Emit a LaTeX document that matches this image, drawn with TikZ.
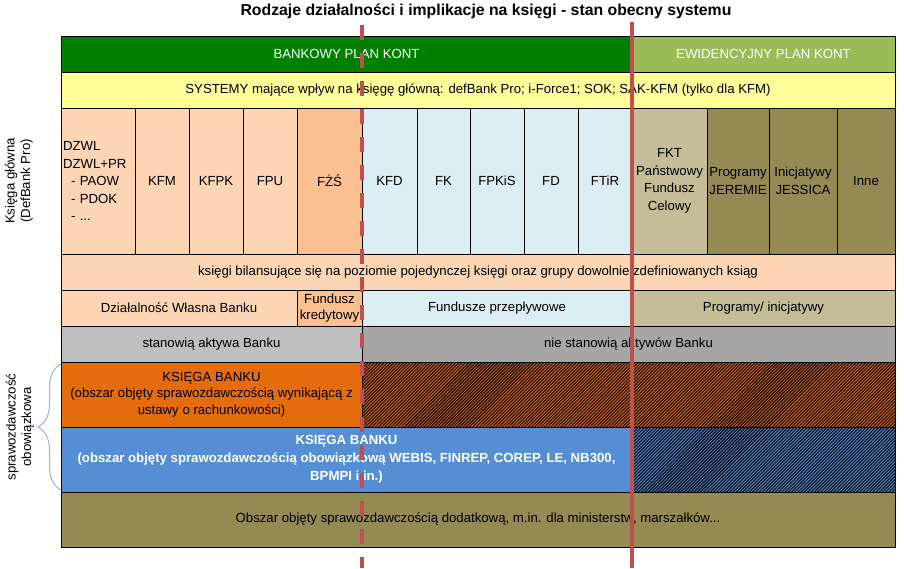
\documentclass[tikz,border=0pt]{standalone}
\usepackage{fontspec}
\setmainfont{Liberation Sans}
\usetikzlibrary{patterns.meta,decorations.pathreplacing}
\definecolor{dgreen}{HTML}{008000}
\definecolor{lgreen}{HTML}{9BBB59}
\definecolor{yel}{HTML}{FFFF99}
\definecolor{peach}{HTML}{FCD5B4}
\definecolor{peachd}{HTML}{FAC090}
\definecolor{lblue}{HTML}{DAEEF3}
\definecolor{tan}{HTML}{C4BD97}
\definecolor{olive}{HTML}{948A54}
\definecolor{grayA}{HTML}{BFBFBF}
\definecolor{grayB}{HTML}{A6A6A6}
\definecolor{obank}{HTML}{E46C0A}
\definecolor{bbank}{HTML}{558ED5}
\definecolor{redl}{HTML}{C0504D}
\definecolor{bracec}{HTML}{8DB4E2}
\newcommand{\fs}{\fontsize{13.2}{17.5}\selectfont}
\newcommand{\cellbox}[7]{\node[cell,#6,minimum width={(#4-#2)*1pt},minimum height={(#5-#3)*1pt}] (#1) at ({(#2+#4)/2},{(#3+#5)/2}) {#7};}
\tikzset{
  cell/.style={draw=black,line width=0.8pt,inner sep=1pt,outer sep=0pt,font=\fs,align=center,text=black},
  hatch/.style={postaction={pattern={Lines[angle=45,distance=2.3pt,line width=1.1pt]},pattern color=black}},
  redline/.style={draw=redl,line width=3.5pt},
  sidelabel/.style={rotate=90,align=center,font=\fontsize{13.2}{15.5}\selectfont}
}
\begin{document}
\begin{tikzpicture}[x=1pt,y=-1pt]
\useasboundingbox (0,0) rectangle (904,568);
\node[font=\fontsize{15.8}{18}\selectfont\bfseries] (title) at (486,11) {Rodzaje działalności i implikacje na księgi - stan obecny systemu};
% header
\cellbox{hbank}{61}{36}{632}{72}{fill=dgreen,text=white}{BANKOWY PLAN KONT}
\cellbox{hewid}{632}{36}{895}{72}{fill=lgreen,text=white}{EWIDENCYJNY PLAN KONT}
\cellbox{sys}{61}{72}{895}{108}{fill=yel}{SYSTEMY mające wpływ na księgę główną: defBank Pro; i-Force1; SOK; SAK-KFM (tylko dla KFM)}
% cells row
\cellbox{dzwl}{61}{108}{135}{254}{fill=peach,align=left,text width=70pt,inner sep=2pt}{DZWL\\DZWL+PR\\\hspace*{8pt}- PAOW\\\hspace*{8pt}- PDOK\\\hspace*{8pt}- ...}
\cellbox{kfm}{135}{108}{189}{254}{fill=peach}{KFM}
\cellbox{kfpk}{189}{108}{243}{254}{fill=peach}{KFPK}
\cellbox{fpu}{243}{108}{297}{254}{fill=peach}{FPU}
\cellbox{fzs}{297}{108}{362}{254}{fill=peachd}{FŻŚ}
\cellbox{kfd}{362}{108}{417}{254}{fill=lblue}{KFD}
\cellbox{fk}{417}{108}{470}{254}{fill=lblue}{FK}
\cellbox{fpkis}{470}{108}{524}{254}{fill=lblue}{FPKiS}
\cellbox{fd}{524}{108}{578}{254}{fill=lblue}{FD}
\cellbox{ftir}{578}{108}{632}{254}{fill=lblue}{FTiR}
\cellbox{fkt}{632}{108}{707}{254}{fill=tan}{FKT\\Państwowy\\Fundusz\\Celowy}
\cellbox{prog}{707}{108}{769}{254}{fill=olive}{Programy\\JEREMIE}
\cellbox{inic}{769}{108}{837}{254}{fill=olive}{Inicjatywy\\JESSICA}
\cellbox{inne}{837}{108}{895}{254}{fill=olive}{Inne}
% balance row
\cellbox{bil}{61}{254}{895}{290}{fill=peach}{księgi bilansujące się na poziomie pojedynczej księgi oraz grupy dowolnie zdefiniowanych ksiąg}
% activity row
\cellbox{dwb}{61}{290}{297}{326}{fill=peach}{Działalność Własna Banku}
\cellbox{fkr}{297}{290}{362}{326}{fill=peachd,font=\fontsize{13.2}{16}\selectfont}{Fundusz\\kredytowy}
\cellbox{fprz}{362}{290}{632}{326}{fill=lblue}{Fundusze przepływowe}
\cellbox{pini}{632}{290}{895}{326}{fill=tan}{Programy/ inicjatywy}
% assets row
\cellbox{akt}{61}{326}{362}{362}{fill=grayA}{stanowią aktywa Banku}
\cellbox{nakt}{362}{326}{895}{362}{fill=grayB}{nie stanowią aktywów Banku}
% ksiega banku rows
\cellbox{kb1}{61}{362}{362}{427}{fill=obank,font=\fontsize{13.2}{16.5}\selectfont}{KSIĘGA BANKU\\(obszar objęty sprawozdawczością wynikającą z\\ustawy o rachunkowości)}
\cellbox{kb1h}{362}{362}{895}{427}{fill=obank,hatch}{}
\cellbox{kb2}{61}{427}{632}{492}{fill=bbank,text=white,font=\fontsize{13.2}{18}\selectfont\bfseries}{KSIĘGA BANKU\\(obszar objęty sprawozdawczością obowiązkową WEBIS, FINREP, COREP, LE, NB300,\\BPMPI i in.)}
\cellbox{kb2h}{632}{427}{895}{492}{fill=bbank,hatch}{}
\cellbox{dod}{61}{492}{895}{547}{fill=olive}{Obszar objęty sprawozdawczością dodatkową, m.in. dla ministerstw, marszałków...}
% side labels
\node[sidelabel] (lglow) at (19,181) {Księga główna\\(DefBank Pro)};
\node[sidelabel] (lspr) at (20,427) {sprawozdawczość\\obowiązkowa};
\coordinate (b1) at (61,490);
\coordinate (b2) at (61,364);
\draw[bracec,line width=1pt,decorate,decoration={brace,amplitude=23pt,aspect=0.5}] (b1) -- (b2);
% red lines
\coordinate (d1) at (362,25);
\coordinate (d2) at (362,568);
\coordinate (s1) at (632,22);
\coordinate (s2) at (632,568);
\draw[redline,dash pattern=on 15pt off 13pt] (d1) -- (d2);
\draw[redline] (s1) -- (s2);
\end{tikzpicture}
\end{document}
